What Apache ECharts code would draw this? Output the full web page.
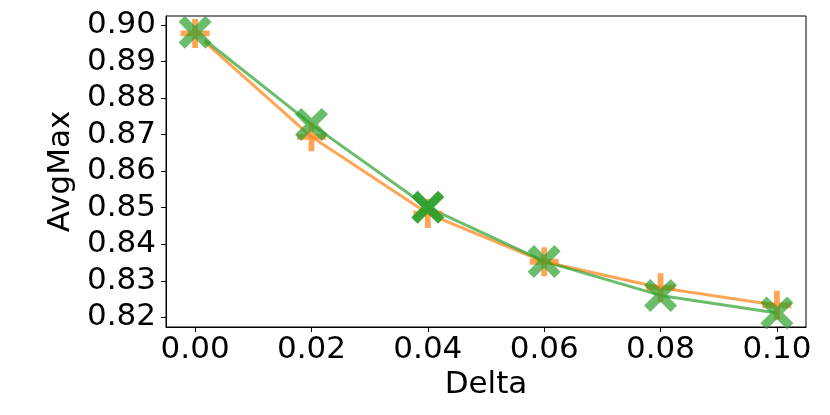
<!DOCTYPE html>
<html>
<head>
<meta charset="utf-8">
<script src="https://cdn.jsdelivr.net/npm/echarts@6/dist/echarts.min.js"></script>
<style>
html, body { margin: 0; padding: 0; background: #fff; }
#chart { width: 830px; height: 415px; }
</style>
</head>
<body>
<div id="chart"></div>
<script>
// data
var deltas = [0.00, 0.02, 0.04, 0.06, 0.08, 0.10];
var blueVals = [0.8980];
var orangeVals = [0.8977, 0.8694, 0.8484, 0.8352, 0.8281, 0.8233];
var greenVals = [0.8980, 0.8728, 0.8501, 0.8353, 0.8260, 0.8212];
var xTicks = [0.00, 0.02, 0.04, 0.06, 0.08, 0.10];
var yTicks = [0.82, 0.83, 0.84, 0.85, 0.86, 0.87, 0.88, 0.89, 0.90];

var plusPath = 'path://M4,0H6V4H10V6H6V10H4V6H0V4H4Z';
var crossPath = 'path://M0,1.9L1.9,0L5,3.1L8.1,0L10,1.9L6.9,5L10,8.1L8.1,10L5,6.9L1.9,10L0,8.1L3.1,5Z';
var font = 'DejaVu Sans';

function pairs(xs, ys) {
	var out = [];
	for (var i = 0; i < ys.length; i++) out.push([xs[i], ys[i]]);
	return out;
}

var myChart = echarts.init(document.getElementById('chart'));

var greenData = pairs(deltas, greenVals);
// the marker at 0.04 looks darker in the picture (overlapping marks)
greenData[2] = { value: greenData[2], itemStyle: { opacity: 0.95 } };

var option = {
	animation: false,
	grid: {
		left: 166, right: 24, top: 16, bottom: 88,
		show: true, borderColor: '#000', borderWidth: 1
	},
	xAxis: {
		type: 'value',
		min: -0.005, max: 0.105,
		name: 'Delta',
		nameLocation: 'middle',
		nameGap: 41,
		nameTextStyle: { fontFamily: font, fontSize: 31, color: '#000' },
		axisLine: { show: true, onZero: false, lineStyle: { color: '#000', width: 1 } },
		axisTick: { show: true, length: 5, lineStyle: { color: '#000' }, customValues: xTicks },
		axisLabel: {
			fontFamily: font, fontSize: 31, color: '#000', margin: 7,
			customValues: xTicks,
			formatter: function(v) { return v.toFixed(2); }
		},
		splitLine: { show: false }
	},
	yAxis: {
		type: 'value',
		min: 0.81735, max: 0.90246,
		name: 'AvgMax',
		nameLocation: 'middle',
		nameGap: 80,
		nameTextStyle: { fontFamily: font, fontSize: 31, color: '#000' },
		axisLine: { show: true, onZero: false, lineStyle: { color: '#000', width: 1 } },
		axisTick: { show: true, length: 5, lineStyle: { color: '#000' }, customValues: yTicks },
		axisLabel: {
			fontFamily: font, fontSize: 31, color: '#000', margin: 10,
			customValues: yTicks,
			formatter: function(v) { return v.toFixed(2); }
		},
		splitLine: { show: false }
	},
	series: [{
		name: 'blue',
		type: 'line',
		data: pairs(deltas, blueVals),
		symbol: 'emptyRect',
		symbolSize: 17,
		lineStyle: { width: 3, color: '#1f77b4', opacity: 0.7 },
		itemStyle: { color: '#fff', borderColor: '#1f77b4', borderWidth: 1.5, opacity: 0.8 }
	}, {
		name: 'orange',
		type: 'line',
		data: pairs(deltas, orangeVals),
		symbol: plusPath,
		symbolSize: 29,
		showAllSymbol: true,
		lineStyle: { width: 3, color: '#ff7f0e', opacity: 0.7 },
		itemStyle: { color: '#ff7f0e', opacity: 0.7 }
	}, {
		name: 'green',
		type: 'line',
		data: greenData,
		symbol: crossPath,
		symbolSize: 33,
		showAllSymbol: true,
		lineStyle: { width: 3, color: '#2ca02c', opacity: 0.7 },
		itemStyle: { color: '#2ca02c', opacity: 0.7 }
	}]
};

myChart.setOption(option);
</script>
</body>
</html>
